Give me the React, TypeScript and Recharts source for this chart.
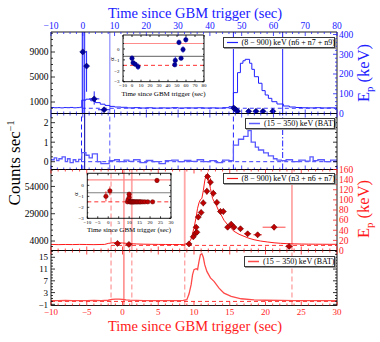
import React from 'react';
import { ComposedChart, Line, Scatter, XAxis, YAxis, ErrorBar, ReferenceLine, Legend } from 'recharts';

const W = 380;
const H = 342;
const FONT = '"Liberation Serif", "DejaVu Serif", serif';
const BLUE = '#2020ff';
const BLUE_D = '#0000a0';
const BLUE_L = '#9c9cff';
const BLUE_B = '#5a5aff';
const RED = '#ff1a1a';
const RED_D = '#c00000';
const RED_L = '#ffa6a6';
const RED_B = '#ff4a4a';

// panel 1: GBM (8-900 keV, n6+n7+n9), top time axis
const gbmBlueT = [-10, -9, -8, -7, -6, -5, -4, -3, -2, -1, -0.3, 1, 2.5, 4, 5.5, 7, 8.5, 10, 12, 14, 16, 18, 20, 22, 24, 26, 28, 30, 32, 34, 36, 38, 40, 42, 44, 46, 47.4, 48.7, 49.6, 50.4, 51.1, 52.5, 53.2, 54, 55.3, 56.4, 57.4, 58.4, 59.5, 61.1, 63.1, 65, 67, 69, 71, 73, 75, 77, 79, 80];
const gbmBlueC = [120, 80, 100, 60, 110, 90, 130, 70, 100, 150, 1300, 1450, 1200, 900, 650, 450, 300, 200, 150, 60, 100, 40, 80, 20, 60, 40, 90, 30, 70, 50, 80, 40, 60, 30, 90, 250, 2500, 5700, 7200, 7600, 7830, 7200, 6230, 5050, 4000, 2820, 2120, 1590, 1050, 680, 360, 200, 120, 80, 60, 90, 50, 70, 40, 40];

// Ep (keV) points for the blue panel
const epBlueT = [0.0, 1.2, 3.6, 6.7, 47.5, 48.1, 48.7, 52.2, 54.5, 56.7, 59.8];
const epBlueE = [312, 240, 74, 19, 28, 20, 12, 11, 11, 11, 11];
const epBlueLo = [311, 130, 29, 6, 4, 4, 3, 3, 3, 3, 3];
const epBlueHi = [100, 77, 38, 6, 4, 4, 3, 3, 3, 3, 3];
const epBlueTErr = [0.2, 0.3, 1.6, 1.9, 0.3, 0.3, 0.3, 0.8, 0.8, 0.8, 0.8];

// panel 2: BAT (15-350 keV)
const batBlueT = [-10, -9, -8.2, -7.5, -6.5, -5.5, -4.8, -4, -3, -2.2, -1.3, -0.3, 1, 2, 3, 4.6, 5.7, 8.3, 10, 11.5, 13, 14.5, 16, 18, 20, 22, 24, 26, 28, 30, 32, 34, 36, 38, 40, 42, 44, 46, 47.4, 49, 50.6, 52, 53, 54.3, 55.3, 56.9, 58.4, 60, 61.1, 62.5, 64, 66, 68, 70, 71.5, 72.5, 74, 76, 78, 80];
const batBlueC = [0.1, 0.2, 0.05, 0.15, 0.25, 0.0, 0.15, -0.05, 0.1, 0.0, 0.12, 0.46, 0.33, 0.2, 0.4, 0.0, -0.1, 0.05, 0.1, 0.0, 0.08, 0.02, 0.1, -0.05, 0.06, 0.0, -0.1, 0.05, 0.08, 0.0, 0.06, 0.02, 0.1, 0.0, 0.05, -0.05, 0.08, 0.05, 0.85, 1.15, 1.3, 1.6, 1.0, 0.75, 0.6, 0.45, 0.3, 0.15, 0.08, 0.05, 0.1, 0.0, 0.08, 0.03, 0.25, 0.05, 0.1, 0.0, 0.08, 0.05];

// inset 1: alpha of the blue intervals
const alphaBlueT = [0.0, 1.2, 3.6, 6.7, 47.5, 48.1, 52.2, 54.5, 56.7, 59.8];
const alphaBlueA = [-0.85, -1.26, -1.4, -1.62, -1.45, -1.05, 0.6, -0.85, -0.05, 0.85];
const alphaBlueErr = [0.25, 0.1, 0.1, 0.3, 0.1, 0.35, 0.25, 0.15, 0.3, 0.25];

// panel 3: GBM (8-900 keV, n3+n6+n7), bottom time axis
const gbmRedT = [-10, -9, -8, -7, -6, -5, -4, -3, -2.5, -2, -1.5, -1, -0.5, 0, 0.5, 1, 1.5, 2, 3, 4, 5, 6, 7, 8, 8.5, 9, 9.3, 9.6, 9.8, 10, 10.3, 10.5, 10.7, 10.9, 11.1, 11.3, 11.5, 11.7, 11.9, 12.1, 12.3, 12.6, 12.9, 13.1, 13.5, 13.8, 14.2, 14.7, 15.2, 15.6, 16.3, 17, 17.7, 18.4, 19.3, 20.3, 21.2, 22.1, 23, 24, 25, 26, 27, 28, 29, 30];
const gbmRedC = [900, 700, 850, 750, 900, 800, 700, 850, 900, 1800, 2300, 2500, 2400, 2200, 1900, 1700, 1500, 1300, 1100, 1000, 900, 850, 800, 800, 850, 1500, 2300, 6000, 11000, 16000, 26000, 34000, 39000, 42000, 43000, 50000, 59000, 65000, 63000, 58600, 52000, 43000, 39000, 37000, 31000, 28000, 23000, 19000, 15500, 12900, 10200, 8300, 6500, 5200, 4000, 3100, 2400, 1900, 1600, 1400, 1250, 1150, 1100, 1050, 1000, 1000];

const epRedT = [-0.7, 0.9, 9.3, 9.9, 10.2, 10.4, 10.3, 10.6, 11.0, 11.3, 11.8, 11.9, 12.3, 12.7, 13.2, 13.7, 14.1, 14.7, 15.2, 15.6, 16.5, 17.5, 18.9, 21.2, 23.3];
const epRedE = [14, 12, 13, 27, 34, 36, 46, 66, 75, 94, 117, 146, 135, 113, 95, 77, 77, 46, 52, 46, 43, 33, 31, 46, 8];
const epRedErr = [3, 3, 3, 4, 4, 4, 5, 6, 6, 7, 7, 8, 8, 7, 6, 6, 6, 5, 5, 5, 5, 5, 5, 6, 3];
const epRedTErr = [0.5, 0.4, 0.15, 0.1, 0.1, 0.1, 0.1, 0.1, 0.15, 0.15, 0.15, 0.15, 0.15, 0.15, 0.2, 0.2, 0.2, 0.25, 0.25, 0.25, 0.3, 0.5, 0.6, 1.6, 0.5];

// panel 4: BAT (15-350 keV)
const batRedT = [-10, -9, -8, -7, -6, -5, -4, -3, -2, -1.5, -1, -0.5, 0, 0.5, 1, 2, 3, 4, 5, 6, 7, 8, 8.5, 9, 9.3, 9.6, 9.8, 10, 10.3, 10.5, 10.7, 10.9, 11.1, 11.3, 11.5, 11.8, 12.3, 12.8, 13.5, 14.2, 15.2, 16.6, 18.4, 20, 22.2, 24, 26, 28, 30];
const batRedC = [0.3, 0.25, 0.35, 0.3, 0.25, 0.3, 0.35, 0.3, 0.4, 0.7, 0.8, 0.8, 0.7, 0.55, 0.45, 0.35, 0.3, 0.3, 0.25, 0.3, 0.3, 0.3, 0.35, 0.6, 2.5, 5.7, 9.1, 10.8, 11.1, 10.8, 13.6, 15.9, 16.2, 15, 12.5, 10.2, 8.0, 6.8, 4.5, 2.8, 1.7, 0.9, 0.5, 0.4, 0.35, 0.3, 0.3, 0.3, 0.3];

// inset 2: alpha of the red intervals
const alphaRedT = [-1.1, 0.8, 9.2, 9.5, 10.0, 10.0, 10.4, 10.6, 11.0, 11.3, 11.8, 11.9, 12.3, 12.7, 13.2, 13.7, 14.1, 14.7, 15.2, 15.6, 16.5, 17.5, 18.9, 21.2, 23.3];
const alphaRedA = [-1.0, -0.5, -1.5, -1.3, -1.1, -0.8, -1.5, -1.5, -1.5, -1.5, -1.5, -1.5, -1.5, -1.5, -1.5, -1.5, -1.5, -1.5, -1.5, -1.5, -1.5, -1.5, -1.5, -1.5, 0.45];
const alphaRedErr = [0.45, 0.4, 0.05, 0.1, 0.1, 0.1, 0.05, 0.05, 0.05, 0.05, 0.05, 0.05, 0.05, 0.05, 0.05, 0.05, 0.05, 0.05, 0.05, 0.05, 0.05, 0.05, 0.05, 0.05, 0.2];

const range = (a: number, b: number, s: number) => {
  const out: number[] = [];
  for (let v = a; v <= b + 1e-9; v += s) out.push(Math.round(v * 1000) / 1000);
  return out;
};

const topMajors = range(-10, 80, 10);
const topTicks = range(-10, 80, 2);
const botMajors = range(-10, 30, 5);
const botTicks = range(-10, 30, 1);
const p1LeftMajors = [1000, 5000, 9000];
const p1LeftTicks = range(0, 12000, 1000);
const p1RightMajors = [0, 100, 200, 300, 400];
const p1RightTicks = range(0, 400, 20);
const p2Majors = [0, 1, 2];
const p2Ticks = range(-0.25, 2.25, 0.25);
const p3LeftMajors = [4000, 29000, 54000];
const p3LeftTicks = range(-1000, 69000, 5000);
const p3RightMajors = range(0, 160, 20);
const p3RightTicks = range(0, 160, 10);
const p4Majors = [-1, 3, 7, 11, 15];
const p4Ticks = range(-1, 17, 1);
const in1XMajors = range(-10, 80, 10);
const in2XMajors = range(-10, 30, 5);
const inYMajors = [0, -1, -2, -3];
const inYTicks = range(-3, 1, 0.5);

const zip = (t: number[], cols: Record<string, any[]>) =>
  t.map((tv, i) => {
    const row: any = { t: tv };
    Object.keys(cols).forEach((k) => (row[k] = cols[k][i]));
    return row;
  });

const gbmBlue = zip(gbmBlueT, { c: gbmBlueC });
const batBlue = zip(batBlueT, { c: batBlueC });
const gbmRed = zip(gbmRedT, { c: gbmRedC });
const batRed = zip(batRedT, { c: batRedC });
const epBlue = zip(epBlueT, {
  ep: epBlueE,
  ey: epBlueE.map((_, i) => [epBlueLo[i], epBlueHi[i]]),
  ex: epBlueTErr,
});
const epRed = zip(epRedT, { ep: epRedE, ey: epRedErr, ex: epRedTErr });
const alphaBlue = zip(alphaBlueT, { a: alphaBlueA, ay: alphaBlueErr });
const alphaRed = zip(alphaRedT, { a: alphaRedA, ay: alphaRedErr });

const fmt = (v: number) => {
  const r = Math.round(v * 100) / 100;
  return r < 0 ? '\u2212' + Math.abs(r) : String(r);
};

type Side = 'top' | 'bottom' | 'left' | 'right';
type TickOpt = { tc: string; lc?: string; majors: number[]; labels: boolean; fs?: number; ml?: number; nl?: number; gap?: number };

function makeTick(side: Side, o: TickOpt) {
  return (p: any) => {
    const v = p.payload.value as number;
    const major = o.majors.some((m) => Math.abs(m - v) < 1e-6);
    const len = major ? o.ml ?? 4 : o.nl ?? 2;
    const fs = o.fs ?? 9.5;
    const gap = o.gap ?? 2.5;
    const { x, y } = p;
    let ln: any;
    let tx: any = null;
    const style = { fontFamily: FONT, fontSize: fs, fill: o.lc ?? '#000' };
    const show = o.labels && major;
    if (side === 'bottom') {
      ln = <line x1={x} x2={x} y1={y} y2={y - len} />;
      if (show) tx = <text x={x} y={y + fs * 0.72 + gap} textAnchor="middle" style={style}>{fmt(v)}</text>;
    } else if (side === 'top') {
      ln = <line x1={x} x2={x} y1={y} y2={y + len} />;
      if (show) tx = <text x={x} y={y - gap} textAnchor="middle" style={style}>{fmt(v)}</text>;
    } else if (side === 'left') {
      ln = <line x1={x} x2={x + len} y1={y} y2={y} />;
      if (show) tx = <text x={x - gap} y={y + fs * 0.35} textAnchor="end" style={style}>{fmt(v)}</text>;
    } else {
      ln = <line x1={x} x2={x - len} y1={y} y2={y} />;
      if (show) tx = <text x={x + gap} y={y + fs * 0.35} textAnchor="start" style={style}>{fmt(v)}</text>;
    }
    return (
      <g stroke={o.tc} strokeWidth={0.8}>
        {ln}
        <g stroke="none">{tx}</g>
      </g>
    );
  };
}

const axisLine = { stroke: '#000', strokeWidth: 0.9 };

// axes are 1px wide/high bands so they still render; margins below compensate
function xPair(domain: [number, number], ticks: number[], bottom: TickOpt, top: TickOpt) {
  const common = {
    dataKey: 't',
    type: 'number' as const,
    domain,
    allowDataOverflow: true,
    ticks,
    interval: 0 as const,
    height: 1,
    tickSize: 0,
    tickMargin: 0,
    tickLine: false,
    axisLine,
  };
  return [
    <XAxis key="xb" xAxisId="x" orientation="bottom" {...common} tick={makeTick('bottom', bottom)} />,
    <XAxis key="xt" xAxisId="x2" orientation="top" {...common} tick={makeTick('top', top)} />,
  ];
}

function yPair(ld: [number, number], lt: number[], left: TickOpt, rd: [number, number], rt: number[], right: TickOpt) {
  const common = {
    type: 'number' as const,
    allowDataOverflow: true,
    interval: 0 as const,
    width: 1,
    tickSize: 0,
    tickMargin: 0,
    tickLine: false,
    axisLine,
  };
  return [
    <YAxis key="yl" yAxisId="l" orientation="left" domain={ld} ticks={lt} {...common} tick={makeTick('left', left)} />,
    <YAxis key="yr" yAxisId="r" orientation="right" domain={rd} ticks={rt} {...common} tick={makeTick('right', right)} />,
  ];
}

const margins = (top: number, bottom: number, left = 51, right = 337) => ({
  top: top - 1,
  bottom: H - bottom - 1,
  left: left - 1,
  right: W - right - 1,
});

const diamond = (fill: string, stroke: string, r = 3) => (p: any) =>
  p.cx == null ? <g /> : (
    <path
      d={`M${p.cx} ${p.cy - r}L${p.cx + r} ${p.cy}L${p.cx} ${p.cy + r}L${p.cx - r} ${p.cy}Z`}
      fill={fill}
      stroke={stroke}
      strokeWidth={0.6}
    />
  );

const dot = (fill: string, stroke: string, r = 2.2) => (p: any) =>
  p.cx == null ? <g /> : <circle cx={p.cx} cy={p.cy} r={r} fill={fill} stroke={stroke} strokeWidth={0.5} />;

function LegendBox({ color, label, width, sw }: { color: string; label: string; width: number; sw: number }) {
  return (
    <div
      style={{
        boxSizing: 'border-box',
        width,
        height: 11,
        border: '1px solid #3a3a3a',
        boxShadow: '1px 1px 0 #9a9a9a',
        background: '#fff',
        display: 'flex',
        alignItems: 'center',
        fontFamily: FONT,
        fontSize: 8,
        lineHeight: '9px',
        whiteSpace: 'nowrap',
        color: '#000',
      }}
    >
      <svg width={15} height={9} style={{ flex: 'none' }}>
        <line x1={3} x2={14} y1={4.5} y2={4.5} stroke={color} strokeWidth={sw} />
      </svg>
      <span style={{ marginLeft: 3 }}>{label}</span>
    </div>
  );
}

const legend = (left: number, top: number, width: number, color: string, label: string, sw: number) => (
  <Legend
    layout="horizontal"
    verticalAlign="middle"
    align="center"
    wrapperStyle={{ left, top, width, height: 11 }}
    content={() => <LegendBox color={color} label={label} width={width} sw={sw} />}
  />
);

const layer: React.CSSProperties = { position: 'absolute', left: 0, top: 0, width: W, height: H };

function PanelGbmBlue() {
  return (
    <ComposedChart width={W} height={H} margin={margins(32, 113.5)}>
      {xPair([-10, 80], topTicks, { tc: BLUE, majors: topMajors, labels: false }, { tc: BLUE, lc: BLUE, majors: topMajors, labels: true, gap: 2.8 })}
      {yPair([-840, 12200], p1LeftTicks, { tc: '#000', majors: p1LeftMajors, labels: true }, [0, 412.7], p1RightTicks, { tc: BLUE, lc: BLUE, majors: p1RightMajors, labels: true, gap: 2 })}
      <ReferenceLine xAxisId="x" yAxisId="l" x={-0.1} stroke={BLUE_L} strokeWidth={2} />
      <ReferenceLine xAxisId="x" yAxisId="l" x={0.6} stroke={BLUE} strokeWidth={1} />
      <ReferenceLine xAxisId="x" yAxisId="l" x={8.5} stroke={BLUE_L} strokeWidth={1.4} />
      <ReferenceLine xAxisId="x" yAxisId="l" x={47.4} stroke={BLUE} strokeWidth={1} />
      <ReferenceLine xAxisId="x" yAxisId="l" x={62.9} stroke={BLUE} strokeWidth={1} />
      <ReferenceLine xAxisId="x" yAxisId="l" segment={[{ x: -0.3, y: 0 }, { x: 80, y: 0 }]} stroke={BLUE} strokeDasharray="4 3" strokeWidth={0.9} />
      <Line xAxisId="x" yAxisId="l" data={gbmBlue} dataKey="c" type="stepAfter" stroke={BLUE} strokeWidth={1} dot={false} isAnimationActive={false} />
      <Scatter xAxisId="x" yAxisId="r" data={epBlue} dataKey="ep" shape={diamond(BLUE_D, '#000060')} isAnimationActive={false}>
        <ErrorBar dataKey="ey" direction="y" width={0} stroke={BLUE} strokeWidth={1} />
        <ErrorBar dataKey="ex" direction="x" width={0} stroke={BLUE} strokeWidth={1} />
      </Scatter>
      {legend(222.5, 36.5, 112.5, BLUE, '(8 \u2212 900) keV (n6 + n7 + n9)', 1.2)}
    </ComposedChart>
  );
}

function PanelBatBlue() {
  return (
    <ComposedChart width={W} height={H} margin={margins(113.5, 169.5)}>
      {xPair([-10, 80], topTicks, { tc: BLUE, majors: topMajors, labels: false }, { tc: BLUE, majors: topMajors, labels: false })}
      {yPair([-0.4, 2.47], p2Ticks, { tc: '#000', majors: p2Majors, labels: true }, [-0.4, 2.47], p2Ticks, { tc: '#000', majors: p2Majors, labels: false })}
      <ReferenceLine xAxisId="x" yAxisId="l" x={-0.4} stroke={BLUE} strokeDasharray="5 3" strokeWidth={1} />
      <ReferenceLine xAxisId="x" yAxisId="l" x={0.6} stroke={BLUE_D} strokeWidth={1} />
      <ReferenceLine xAxisId="x" yAxisId="l" x={8.5} stroke={BLUE_B} strokeDasharray="5 3" strokeWidth={1} />
      <ReferenceLine xAxisId="x" yAxisId="l" x={47.4} stroke={BLUE} strokeDasharray="5 3" strokeWidth={1} />
      <ReferenceLine xAxisId="x" yAxisId="l" x={62.9} stroke={BLUE} strokeDasharray="6 2 1.5 2" strokeWidth={1} />
      <ReferenceLine xAxisId="x" yAxisId="l" segment={[{ x: -0.5, y: 0 }, { x: 80, y: 0 }]} stroke={BLUE} strokeDasharray="4 3" strokeWidth={0.9} />
      <Line xAxisId="x" yAxisId="l" data={batBlue} dataKey="c" type="stepAfter" stroke={BLUE_B} strokeWidth={1.3} dot={false} isAnimationActive={false} />
      {legend(245, 118.3, 90, BLUE_B, '(15 \u2212 350) keV (BAT)', 1.5)}
    </ComposedChart>
  );
}

function PanelGbmRed() {
  return (
    <ComposedChart width={W} height={H} margin={margins(169.5, 250.5)}>
      {xPair([-10, 30], botTicks, { tc: RED, majors: botMajors, labels: false }, { tc: RED, majors: botMajors, labels: false })}
      {yPair([-4670, 69500], p3LeftTicks, { tc: '#000', majors: p3LeftMajors, labels: true }, [0, 160], p3RightTicks, { tc: RED, lc: RED, majors: p3RightMajors, labels: true, gap: 2 })}
      <ReferenceLine xAxisId="x" yAxisId="l" x={-1.6} stroke={RED_L} strokeDasharray="5 3" strokeWidth={1.4} />
      <ReferenceLine xAxisId="x" yAxisId="l" x={0.2} stroke={RED_L} strokeWidth={1.8} />
      <ReferenceLine xAxisId="x" yAxisId="l" x={1.3} stroke={RED_L} strokeWidth={1.8} />
      <ReferenceLine xAxisId="x" yAxisId="l" x={8.7} stroke={RED_L} strokeWidth={1.8} />
      <ReferenceLine xAxisId="x" yAxisId="l" x={23.7} stroke={RED_L} strokeWidth={1.8} />
      <ReferenceLine xAxisId="x" yAxisId="l" segment={[{ x: -1.6, y: 0 }, { x: 30, y: 0 }]} stroke={RED} strokeDasharray="4 3" strokeWidth={0.9} />
      <Line xAxisId="x" yAxisId="l" data={gbmRed} dataKey="c" type="linear" stroke={RED} strokeWidth={1} dot={false} isAnimationActive={false} />
      <Scatter xAxisId="x" yAxisId="r" data={epRed} dataKey="ep" shape={diamond(RED_D, '#600000')} isAnimationActive={false}>
        <ErrorBar dataKey="ey" direction="y" width={0} stroke={RED_B} strokeWidth={1} />
        <ErrorBar dataKey="ex" direction="x" width={0} stroke={RED_B} strokeWidth={1} />
      </Scatter>
      {legend(222.5, 172.5, 112.5, RED, '(8 \u2212 900) keV (n3 + n6 + n7)', 1.2)}
    </ComposedChart>
  );
}

function PanelBatRed() {
  return (
    <ComposedChart width={W} height={H} margin={margins(250.5, 305.5)}>
      {xPair([-10, 30], botTicks, { tc: RED, lc: RED, majors: botMajors, labels: true, fs: 9, gap: 3.5 }, { tc: RED, majors: botMajors, labels: false })}
      {yPair([-1.39, 17.31], p4Ticks, { tc: '#000', majors: p4Majors, labels: true, fs: 9, gap: 3 }, [-1.39, 17.31], p4Ticks, { tc: '#000', majors: p4Majors, labels: false })}
      <ReferenceLine xAxisId="x" yAxisId="l" x={-1.6} stroke={RED_L} strokeDasharray="5 3" strokeWidth={1.4} />
      <ReferenceLine xAxisId="x" yAxisId="l" x={0.2} stroke={RED_B} strokeWidth={1} />
      <ReferenceLine xAxisId="x" yAxisId="l" x={1.3} stroke={RED_L} strokeDasharray="5 3" strokeWidth={1.4} />
      <ReferenceLine xAxisId="x" yAxisId="l" x={8.7} stroke={RED_L} strokeDasharray="5 3" strokeWidth={1.4} />
      <ReferenceLine xAxisId="x" yAxisId="l" x={23.7} stroke={RED_L} strokeDasharray="5 3" strokeWidth={1.4} />
      <ReferenceLine xAxisId="x" yAxisId="l" y={0} stroke={RED} strokeDasharray="4 3" strokeWidth={0.9} />
      <Line xAxisId="x" yAxisId="l" data={batRed} dataKey="c" type="linear" stroke={RED_B} strokeWidth={1.3} dot={false} isAnimationActive={false} />
      {legend(244, 256, 91, RED_B, '(15 \u2212 350) keV (BAT)', 1.5)}
    </ComposedChart>
  );
}

function Inset({ box, xd, xMajors, data, color, fill, edge }: any) {
  const [l, t, r, b] = box;
  const top = xd[1] === 80 ? 1.28 : 1.1;
  const opt = (labels: boolean, majors: number[], gap = 1.5): TickOpt => ({ tc: '#000', majors, labels, fs: 5, ml: 2, nl: 1, gap });
  return (
    <ComposedChart width={W} height={H} margin={margins(t, b, l, r)}>
      {xPair(xd, xMajors, opt(true, xMajors, 2), opt(false, xMajors))}
      {yPair([-3, top], inYTicks, opt(true, inYMajors, 3.5), [-3, top], inYTicks, opt(false, inYMajors))}
      <ReferenceLine xAxisId="x" yAxisId="l" y={0.5} stroke="#ff8c8c" strokeWidth={1.2} />
      <ReferenceLine xAxisId="x" yAxisId="l" y={-0.67} stroke="#808080" strokeWidth={1.2} />
      <ReferenceLine xAxisId="x" yAxisId="l" y={-1.5} stroke="#ff3030" strokeDasharray="4 3" strokeWidth={1} />
      <Scatter xAxisId="x" yAxisId="l" data={data} dataKey="a" shape={dot(fill, edge)} isAnimationActive={false}>
        <ErrorBar dataKey="ay" direction="y" width={0} stroke={color} strokeWidth={0.9} />
      </Scatter>
    </ComposedChart>
  );
}

function Titles() {
  return (
    <svg width={W} height={H} style={layer}>
      <g fontFamily={FONT}>
        <text x={195} y={18} textAnchor="middle" fontSize={14.5} fill={BLUE}>Time since GBM trigger (sec)</text>
        <text x={195} y={331} textAnchor="middle" fontSize={14.5} fill={RED}>Time since GBM trigger (sec)</text>
        <text transform="translate(20,163) rotate(-90)" textAnchor="middle" fontSize={17} fill="#000">
          Counts sec<tspan dy={-6} fontSize={10}>{'\u22121'}</tspan>
        </text>
        <text transform="translate(368.5,73) rotate(-90)" textAnchor="middle" fontSize={16.5} fill={BLUE}>
          E<tspan dy={4} fontSize={11}>p</tspan><tspan dy={-4}> (keV)</tspan>
        </text>
        <text transform="translate(368.5,209) rotate(-90)" textAnchor="middle" fontSize={16.5} fill={RED}>
          E<tspan dy={4} fontSize={11}>p</tspan><tspan dy={-4}> (keV)</tspan>
        </text>
        <text x={163.5} y={96} textAnchor="middle" fontSize={7} fill="#000">Time since GBM trigger (sec)</text>
        <text x={129} y={232} textAnchor="middle" fontSize={7} fill="#000">Time since GBM trigger (sec)</text>
        <text transform="translate(113.5,59) rotate(-90)" textAnchor="middle" fontSize={6.5} fill="#000">{'\u03b1'}</text>
        <text transform="translate(77.5,194) rotate(-90)" textAnchor="middle" fontSize={6.5} fill="#000">{'\u03b1'}</text>
      </g>
    </svg>
  );
}

export default function App() {
  return (
    <div style={{ position: 'absolute', left: 0, top: 0, width: W, height: H, background: '#fff', overflow: 'hidden' }}>
      <div style={layer}><PanelGbmBlue /></div>
      <div style={layer}><PanelBatBlue /></div>
      <div style={layer}><PanelGbmRed /></div>
      <div style={layer}><PanelBatRed /></div>
      <div style={layer}>
        <Inset box={[123, 35, 204, 81.7]} xd={[-10, 80]} xMajors={in1XMajors} data={alphaBlue} color={BLUE} fill={BLUE_D} edge="#000070" />
      </div>
      <div style={layer}>
        <Inset box={[87.3, 173.3, 171, 218.3]} xd={[-10, 30]} xMajors={in2XMajors} data={alphaRed} color={RED} fill={RED_D} edge="#600000" />
      </div>
      <Titles />
    </div>
  );
}
